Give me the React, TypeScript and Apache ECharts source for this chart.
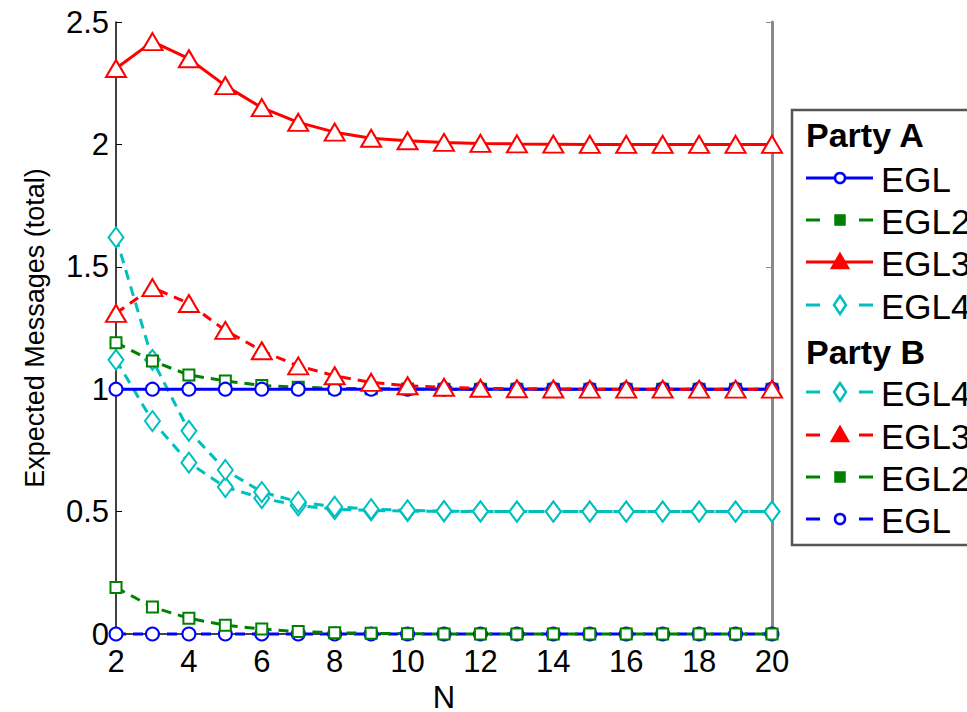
import React, { useEffect, useRef } from "react";
import * as echarts from "echarts";

const N = [2, 3, 4, 5, 6, 7, 8, 9, 10, 11, 12, 13, 14, 15, 16, 17, 18, 19, 20];
const yTicks = [0, 0.5, 1, 1.5, 2, 2.5];

// Party A
const aEGL = [1, 1, 1, 1, 1, 1, 1, 1, 1, 1, 1, 1, 1, 1, 1, 1, 1, 1, 1];
const aEGL2 = [1.19, 1.115, 1.058, 1.034, 1.015, 1.008, 1.004, 1.002, 1.001, 1, 1, 1, 1, 1, 1, 1, 1, 1, 1];
const aEGL3 = [2.31, 2.42, 2.35, 2.24, 2.15, 2.09, 2.05, 2.025, 2.015, 2.008, 2.004, 2.002, 2.001, 2, 2, 2, 2, 2, 2];
const aEGL4 = [1.62, 1.12, 0.83, 0.67, 0.58, 0.54, 0.52, 0.51, 0.505, 0.502, 0.501, 0.5, 0.5, 0.5, 0.5, 0.5, 0.5, 0.5, 0.5];
// Party B
const bEGL4 = [1.12, 0.87, 0.7, 0.6, 0.555, 0.525, 0.51, 0.505, 0.502, 0.501, 0.5, 0.5, 0.5, 0.5, 0.5, 0.5, 0.5, 0.5, 0.5];
const bEGL3 = [1.31, 1.415, 1.35, 1.24, 1.157, 1.095, 1.055, 1.028, 1.014, 1.008, 1.004, 1.002, 1.001, 1, 1, 1, 1, 1, 1];
const bEGL2 = [0.19, 0.11, 0.064, 0.036, 0.02, 0.01, 0.005, 0.003, 0.001, 0, 0, 0, 0, 0, 0, 0, 0, 0, 0];
const bEGL = [0, 0, 0, 0, 0, 0, 0, 0, 0, 0, 0, 0, 0, 0, 0, 0, 0, 0, 0];

const BLUE = "#0000ff";
const GREEN = "#008000";
const RED = "#ff0000";
const CYAN = "#00bfbf";
const FONT = "Liberation Sans, Arial, Helvetica, sans-serif";

type Def = { name: string; data: number[]; color: string; dashed: boolean; symbol: string; size: number | number[] };

const seriesDefs: Def[] = [
  { name: "B EGL", data: bEGL, color: BLUE, dashed: true, symbol: "emptyCircle", size: 13 },
  { name: "B EGL2", data: bEGL2, color: GREEN, dashed: true, symbol: "emptyRect", size: 11 },
  { name: "B EGL4", data: bEGL4, color: CYAN, dashed: true, symbol: "emptyDiamond", size: [15, 20] },
  { name: "A EGL4", data: aEGL4, color: CYAN, dashed: true, symbol: "emptyDiamond", size: [15, 20] },
  { name: "A EGL2", data: aEGL2, color: GREEN, dashed: true, symbol: "emptyRect", size: 11 },
  { name: "A EGL", data: aEGL, color: BLUE, dashed: false, symbol: "emptyCircle", size: 13 },
  { name: "B EGL3", data: bEGL3, color: RED, dashed: true, symbol: "emptyTriangle", size: [20, 17] },
  { name: "A EGL3", data: aEGL3, color: RED, dashed: false, symbol: "emptyTriangle", size: [20, 17] },
];

type LegendRow = { header?: string; label?: string; color?: string; dashed?: boolean; symbol?: string };
const legendRows: LegendRow[] = [
  { header: "Party A" },
  { label: "EGL", color: BLUE, dashed: false, symbol: "circle" },
  { label: "EGL2", color: GREEN, dashed: true, symbol: "rect" },
  { label: "EGL3", color: RED, dashed: false, symbol: "triangle" },
  { label: "EGL4", color: CYAN, dashed: true, symbol: "diamond" },
  { header: "Party B" },
  { label: "EGL4", color: CYAN, dashed: true, symbol: "diamond" },
  { label: "EGL3", color: RED, dashed: true, symbol: "triangle" },
  { label: "EGL2", color: GREEN, dashed: true, symbol: "rect" },
  { label: "EGL", color: BLUE, dashed: true, symbol: "circle" },
];

function markerGraphic(symbol: string, cx: number, cy: number, color: string): any {
  const s = { fill: "#fff", stroke: color, lineWidth: 2.5 };
  if (symbol === "circle") return { type: "circle", shape: { cx, cy, r: 5 }, style: s };
  if (symbol === "rect") return { type: "rect", shape: { x: cx - 4.5, y: cy - 4.5, width: 9, height: 9 }, style: { ...s, fill: color } };
  if (symbol === "triangle")
    return { type: "polygon", shape: { points: [[cx, cy - 8], [cx + 8, cy + 6], [cx - 8, cy + 6]] }, style: { ...s, fill: color } };
  return { type: "polygon", shape: { points: [[cx, cy - 9], [cx + 6, cy], [cx, cy + 9], [cx - 6, cy]] }, style: s };
}

function buildLegend(): any[] {
  const els: any[] = [];
  els.push({
    type: "rect",
    shape: { x: 792, y: 110, width: 220, height: 435 },
    style: { fill: "#fff", stroke: "#555", lineWidth: 2.5 },
    z: 10,
  });
  const rowY = [134, 178, 220, 262, 305, 351, 392, 435, 477, 519];
  legendRows.forEach((r, i) => {
    const y = rowY[i];
    if (r.header) {
      els.push({
        type: "text",
        x: 806,
        y: y + 1,
        style: { text: r.header, font: `bold 34px ${FONT}`, fill: "#000", textVerticalAlign: "middle", textAlign: "left" },
        z: 11,
      });
      return;
    }
    const lineStyle = { stroke: r.color, lineWidth: 3 };
    const x0 = 806;
    if (r.dashed) {
      els.push({ type: "line", shape: { x1: x0, y1: y, x2: x0 + 14, y2: y }, style: lineStyle, z: 11 });
      els.push({ type: "line", shape: { x1: x0 + 53, y1: y, x2: x0 + 67, y2: y }, style: lineStyle, z: 11 });
    } else {
      els.push({ type: "line", shape: { x1: x0, y1: y, x2: x0 + 67, y2: y }, style: lineStyle, z: 11 });
    }
    els.push({ ...markerGraphic(r.symbol as string, x0 + 34, y, r.color as string), z: 12 });
    els.push({
      type: "text",
      x: 881,
      y: y + 1,
      style: { text: r.label, font: `35px ${FONT}`, fill: "#000", textVerticalAlign: "middle", textAlign: "left" },
      z: 11,
    });
  });
  return els;
}

export default function App() {
  const ref = useRef<HTMLDivElement>(null);
  useEffect(() => {
    if (!ref.current) return;
    document.body.style.margin = "0";
    document.body.style.overflow = "hidden";
    const chart = echarts.init(ref.current, undefined, { renderer: "svg" });
    const axisLabel = { fontSize: 31, color: "#000", fontFamily: FONT };
    chart.setOption({
      animation: false,
      backgroundColor: "#fff",
      grid: { left: 116, right: 195, top: 22, bottom: 78, containLabel: false, outerBoundsMode: "none" },
      xAxis: [
        {
          type: "value",
          min: 2,
          max: 20,
          interval: 2,
          name: "N",
          nameLocation: "middle",
          nameGap: 44,
          nameTextStyle: { fontSize: 31, lineHeight: 31, color: "#000", fontFamily: FONT },
          axisLine: { show: true, lineStyle: { color: "#000", width: 1.5 } },
          axisTick: { show: true, inside: true, length: 6, lineStyle: { color: "#000" } },
          axisLabel: { ...axisLabel, margin: 12 },
          splitLine: { show: false },
        },
        {
          type: "value",
          position: "top",
          min: 2,
          max: 20,
          interval: 2,
          axisLine: { show: true, lineStyle: { color: "#444", width: 2 } },
          axisTick: { show: true, inside: true, length: 6, lineStyle: { color: "#444" } },
          axisLabel: { show: false },
          splitLine: { show: false },
        },
      ],
      yAxis: [
        {
          type: "value",
          min: 0,
          max: 2.5,
          interval: 0.5,
          name: "Expected Messages (total)",
          nameLocation: "middle",
          nameGap: 68,
          nameTextStyle: { fontSize: 27, color: "#000", fontFamily: FONT },
          axisLine: { show: true, lineStyle: { color: "#000", width: 1.5 } },
          axisTick: { show: true, inside: true, length: 6, lineStyle: { color: "#000" } },
          axisLabel: { ...axisLabel, margin: 7, formatter: (v: number) => (yTicks.includes(v) ? String(v) : "") },
          splitLine: { show: false },
        },
        {
          type: "value",
          position: "right",
          min: 0,
          max: 2.5,
          interval: 0.5,
          axisLine: { show: true, lineStyle: { color: "#8a8a8a", width: 3 } },
          axisTick: { show: true, inside: true, length: 6, lineStyle: { color: "#8a8a8a" } },
          axisLabel: { show: false },
          splitLine: { show: false },
        },
      ],
      series: seriesDefs.map((d) => ({
        name: d.name,
        type: "line",
        xAxisIndex: 0,
        yAxisIndex: 0,
        data: d.data.map((v, i) => [N[i], v]),
        symbol: d.symbol,
        symbolSize: d.size,
        showSymbol: true,
        clip: false,
        lineStyle: { color: d.color, width: 3, type: d.dashed ? [10, 7] : "solid" },
        itemStyle: { color: d.color, borderWidth: 3 },
        z: 3,
      })),
      graphic: buildLegend(),
    });
    return () => chart.dispose();
  }, []);
  return <div ref={ref} style={{ width: 967, height: 712 }} />;
}
